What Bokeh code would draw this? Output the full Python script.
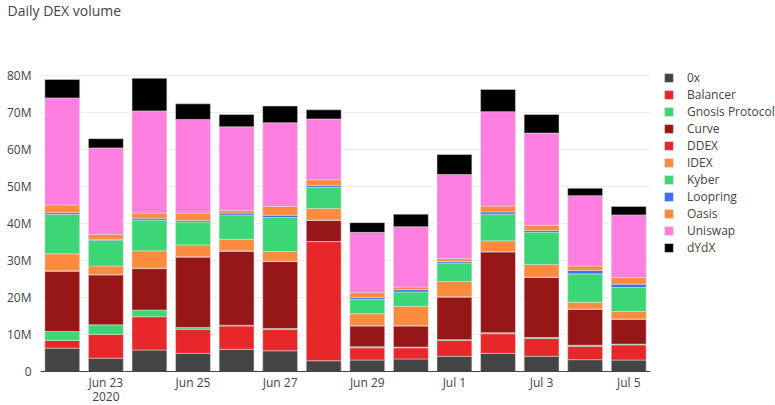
from bokeh.plotting import figure
from bokeh.models import Range1d, FixedTicker, Legend, LegendItem, ColumnDataSource, Title
from bokeh.embed import file_html
from bokeh.resources import INLINE

days = ["Jun 22", "Jun 23", "Jun 24", "Jun 25", "Jun 26", "Jun 27", "Jun 28",
        "Jun 29", "Jun 30", "Jul 1", "Jul 2", "Jul 3", "Jul 4", "Jul 5"]
series = ["0x", "Balancer", "Gnosis Protocol", "Curve", "DDEX", "IDEX", "Kyber",
          "Loopring", "Oasis", "Uniswap", "dYdX"]

# values in millions USD
v_0x = [6.3, 3.6, 5.8, 4.9, 6.0, 5.6, 2.9, 3.1, 3.4, 4.1, 4.9, 4.1, 3.2, 3.1]
v_balancer = [2.1, 6.4, 9.0, 6.5, 6.3, 5.8, 32.2, 3.3, 3.0, 4.3, 5.3, 4.8, 3.6, 4.1]
v_gnosis = [2.4, 2.6, 1.8, 0.5, 0.2, 0.2, 0.0, 0.3, 0.2, 0.2, 0.3, 0.3, 0.3, 0.2]
v_curve = [16.3, 13.5, 11.2, 19.0, 20.0, 18.1, 5.7, 5.6, 5.7, 11.5, 21.8, 16.2, 9.7, 6.7]
v_ddex = [0.1, 0.1, 0.1, 0.1, 0.1, 0.1, 0.1, 0.1, 0.1, 0.1, 0.1, 0.1, 0.1, 0.1]
v_idex = [4.6, 2.3, 4.7, 3.2, 3.1, 2.6, 3.1, 3.2, 5.2, 4.1, 2.9, 3.4, 1.8, 2.0]
v_kyber = [10.6, 6.9, 8.3, 6.2, 6.6, 9.2, 5.7, 3.9, 3.9, 5.0, 7.2, 8.7, 7.7, 6.5]
v_loopring = [0.5, 0.3, 0.5, 0.4, 0.5, 0.6, 0.5, 0.5, 0.6, 0.4, 0.6, 0.5, 0.9, 0.9]
v_oasis = [2.1, 1.3, 1.4, 2.0, 0.7, 2.4, 1.6, 1.3, 0.7, 0.8, 1.6, 1.4, 1.2, 1.8]
v_uniswap = [28.9, 23.4, 27.6, 25.3, 22.6, 22.6, 16.4, 16.3, 16.3, 22.7, 25.5, 24.9, 19.0, 16.9]
v_dydx = [5.0, 2.5, 8.8, 4.2, 3.3, 4.5, 2.5, 2.6, 3.4, 5.4, 6.0, 5.0, 2.0, 2.3]

colors = ["#444444", "#e8272a", "#3dd675", "#971719", "#e8272a", "#fb8c3e",
          "#3dd675", "#3b6ff0", "#fb8c3e", "#ff7fe0", "#000000"]

tick_pos = [1, 3, 5, 7, 9, 11, 13]
tick_labels = ["Jun 23\n2020", "Jun 25", "Jun 27", "Jun 29", "Jul 1", "Jul 3", "Jul 5"]
y_ticks = [0, 10, 20, 30, 40, 50, 60, 70, 80]
y_labels = ["0", "10M", "20M", "30M", "40M", "50M", "60M", "70M", "80M"]

values = [v_0x, v_balancer, v_gnosis, v_curve, v_ddex, v_idex, v_kyber,
          v_loopring, v_oasis, v_uniswap, v_dydx]
data = {"x": list(range(len(days)))}
for name, vals in zip(series, values):
    data[name] = vals
source = ColumnDataSource(data)

p = figure(frame_width=610, frame_height=308, output_backend="svg",
           toolbar_location=None, x_range=Range1d(-0.5, 13.5),
           y_range=Range1d(0, 83.2), min_border_left=40, min_border_bottom=34,
           min_border_top=63, min_border_right=125)

main_title = Title(text="Daily DEX volume", text_font="Open Sans", text_font_size="14px",
                   text_font_style="normal", text_color="#444444", vertical_align="top",
                   offset=-33, standoff=0,
                   padding=dict(left=0, right=0, top=0, bottom=42))
p.add_layout(main_title, "above")

renderers = p.vbar_stack(series, x="x", width=0.8, source=source, color=colors,
                         line_color="#e0e0e0", line_width=0.5)

p.xaxis.ticker = FixedTicker(ticks=tick_pos)
p.xaxis.major_label_overrides = {t: l for t, l in zip(tick_pos, tick_labels)}
p.yaxis.ticker = FixedTicker(ticks=y_ticks)
p.yaxis.major_label_overrides = {t: l for t, l in zip(y_ticks, y_labels)}

for ax in (p.xaxis, p.yaxis):
    ax.major_label_text_font = "Open Sans"
    ax.major_label_text_font_size = "12px"
    ax.major_label_text_color = "#444444"
    ax.major_tick_line_color = None
    ax.minor_tick_line_color = None
p.yaxis.axis_line_color = None
p.yaxis.major_label_standoff = 3
p.xaxis.axis_line_color = "#444444"
p.xaxis.axis_line_width = 1
p.xaxis.major_label_standoff = -4
p.xaxis.major_label_text_line_height = 0.86
p.xgrid.grid_line_color = None
p.ygrid.grid_line_color = "#eeeeee"
p.outline_line_color = None

items = [LegendItem(label=s, renderers=[r]) for s, r in zip(series, renderers)]
legend = Legend(items=items, location=(13, 115))
legend.label_text_font = "Open Sans"
legend.label_text_font_size = "12px"
legend.label_text_color = "#444444"
legend.glyph_width = 11
legend.glyph_height = 11
legend.label_standoff = 13
legend.spacing = 0
legend.label_height = 17
legend.padding = 0
legend.margin = 0
legend.border_line_color = None
legend.background_fill_alpha = 0
p.add_layout(legend, "right")

html = file_html(p, INLINE)
open("out.html", "w").write(html)
